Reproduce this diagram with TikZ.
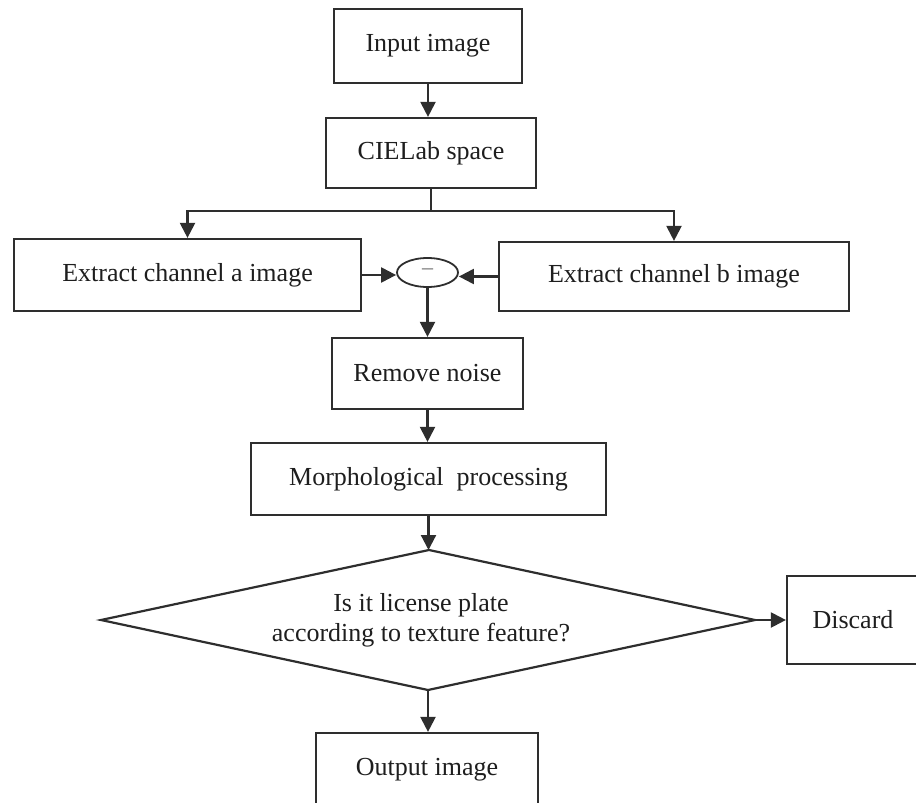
\documentclass[tikz,border=0pt]{standalone}
\usepackage{fontspec}
\setmainfont{Liberation Serif}
\usetikzlibrary{arrows.meta,shapes.geometric}
\definecolor{ln}{HTML}{2E2E2E}
\definecolor{tx}{HTML}{1E1E1E}
\begin{document}
\begin{tikzpicture}[x=1pt,y=-1pt,
  box/.style={draw=ln,line width=2.2pt,fill=white,inner sep=0pt,text=tx,
    font=\fontsize{26}{30}\selectfont,align=center},
  lnk/.style={draw=ln,line width=2.2pt},
  arr/.style={lnk,-{Triangle[length=15pt,width=15pt]}}]
\useasboundingbox (0,0) rectangle (916,803);
% nodes
\node[box,minimum width=188pt,minimum height=74pt] (in) at (428,46) {Input image};
\node[box,minimum width=210pt,minimum height=70pt] (cie) at (431,153) {CIELab space};
\node[box,minimum width=347pt,minimum height=72pt] (ea) at (187.5,275) {Extract channel a image};
\node[box,minimum width=350pt,minimum height=69pt] (eb) at (674,276.5) {Extract channel b image};
\node[draw=ln,line width=1.8pt,ellipse,inner sep=0pt,minimum width=61pt,minimum height=29pt,
  text=ln!70,font=\fontsize{22}{24}\selectfont] (el) at (427.5,272.5) {\raisebox{2pt}{\textendash}};
\node[box,minimum width=191pt,minimum height=71pt] (rn) at (427.5,373.5) {Remove noise};
\node[box,minimum width=355pt,minimum height=72pt] (mp) at (428.5,479) {Morphological~~processing};
\coordinate (dl) at (101,620);
\coordinate (dt) at (429,550);
\coordinate (dr) at (755,620);
\coordinate (db) at (428,690);
\draw[lnk,line join=miter] (dl) -- (dt) -- (dr) -- (db) -- cycle;
\node[text=tx,font=\fontsize{26}{30}\selectfont,align=center,inner sep=0pt] (q) at (421,620)
  {Is it license plate\\according to texture feature?};
\node[box,minimum width=132pt,minimum height=88pt] (dc) at (853,620) {Discard};
\node[box,minimum width=222pt,minimum height=74pt] (out) at (427,770) {Output image};
% connectors
\draw[arr] (in.south) -- (in.south |- cie.north);
\coordinate (br) at (431,211);
\draw[lnk] (cie.south) -- (br);
\draw[arr] (br) -| (ea.north);
\draw[arr] (br) -| (eb.north);
\draw[arr] (ea.east) -- (ea.east -| el.west);
\draw[arr] (eb.west) -- (eb.west -| el.east);
\draw[arr] (el.south) -- (el.south |- rn.north);
\draw[arr] (rn.south) -- (rn.south |- mp.north);
\draw[arr] (mp.south) -- (mp.south |- dt);
\draw[arr] (dr) -- (dc.west);
\draw[arr] (db) -- (db |- out.north);
\end{tikzpicture}
\end{document}
